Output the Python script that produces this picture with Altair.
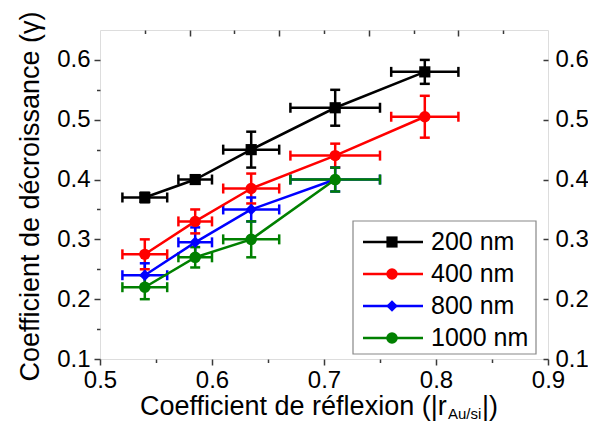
import altair as alt
import pandas as pd

# ---------------- data ----------------
series = ["200 nm", "400 nm", "800 nm", "1000 nm"]
colors = ["#000000", "#ff0000", "#0000ff", "#008000"]
shapes = ["square", "circle", "diamond", "circle"]
marker_sizes = [125, 135, 170, 135]

x_err = [0.02, 0.015, 0.025, 0.04, 0.03]

x_200 = [0.54, 0.585, 0.635, 0.71, 0.79]
y_200 = [0.37, 0.40, 0.45, 0.52, 0.58]
ey_200 = [0.008, 0.007, 0.03, 0.03, 0.02]

x_400 = [0.54, 0.585, 0.635, 0.71, 0.79]
y_400 = [0.275, 0.33, 0.385, 0.44, 0.505]
ey_400 = [0.025, 0.02, 0.025, 0.02, 0.035]

x_800 = [0.54, 0.585, 0.635, 0.71]
y_800 = [0.24, 0.295, 0.35, 0.40]
ey_800 = [0.02, 0.025, 0.02, 0.02]

x_1000 = [0.54, 0.585, 0.635, 0.71]
y_1000 = [0.22, 0.27, 0.30, 0.40]
ey_1000 = [0.02, 0.017, 0.03, 0.02]

x_major = [0.5, 0.6, 0.7, 0.8, 0.9]
x_minor = [0.55, 0.65, 0.75, 0.85]
x_top_major = [0.58, 0.66, 0.74, 0.82]
x_top_minor = [0.54, 0.62, 0.70, 0.78, 0.86]
y_major = [0.1, 0.2, 0.3, 0.4, 0.5, 0.6]
y_minor = [0.15, 0.25, 0.35, 0.45, 0.55]

x_title_main = "Coefficient de réflexion (|r"
x_title_sub = "Au/si"
x_title_end = "|)"
y_title = "Coefficient de décroissance (γ)"

# ---------------- tables ----------------
rows = []
for name, xs_, ys_, eys in [
    (series[0], x_200, y_200, ey_200),
    (series[1], x_400, y_400, ey_400),
    (series[2], x_800, y_800, ey_800),
    (series[3], x_1000, y_1000, ey_1000),
]:
    for i, (xv, yv, ey) in enumerate(zip(xs_, ys_, eys)):
        rows.append({"series": name, "order": i, "x": xv, "y": yv,
                     "ex": x_err[i], "ey": ey})
df = pd.DataFrame(rows)
leg = pd.DataFrame({"series": series, "row": list(range(len(series)))})

FONT = "Liberation Sans"
W, H = 448, 329
AX = "#3a3a3a"
EW = 2.5

xs = alt.Scale(domain=[0.5, 0.9], nice=False, zero=False)
ys = alt.Scale(domain=[0.1, 0.65], nice=False, zero=False)
color = alt.Color("series:N", scale=alt.Scale(domain=series, range=colors), legend=None)
shape = alt.Shape("series:N", scale=alt.Scale(domain=series, range=shapes), legend=None)
msize = alt.Size("series:N", scale=alt.Scale(domain=series, range=marker_sizes), legend=None)

base = alt.Chart(df).transform_calculate(
    xlo="datum.x - datum.ex", xhi="datum.x + datum.ex",
    ylo="datum.y - datum.ey", yhi="datum.y + datum.ey",
)

herr = base.mark_rule(strokeWidth=EW).encode(
    x=alt.X("xlo:Q", scale=xs, axis=None), x2="xhi:Q",
    y=alt.Y("y:Q", scale=ys, axis=None), color=color)
verr = base.mark_rule(strokeWidth=EW).encode(
    x=alt.X("x:Q", scale=xs, axis=None),
    y=alt.Y("ylo:Q", scale=ys, axis=None), y2="yhi:Q", color=color)
cap_xlo = base.mark_tick(orient="vertical", thickness=EW, size=10, opacity=1).encode(
    x=alt.X("xlo:Q", scale=xs, axis=None), y=alt.Y("y:Q", scale=ys, axis=None), color=color)
cap_xhi = base.mark_tick(orient="vertical", thickness=EW, size=10, opacity=1).encode(
    x=alt.X("xhi:Q", scale=xs, axis=None), y=alt.Y("y:Q", scale=ys, axis=None), color=color)
cap_ylo = base.mark_tick(orient="horizontal", thickness=EW, size=10, opacity=1).encode(
    x=alt.X("x:Q", scale=xs, axis=None), y=alt.Y("ylo:Q", scale=ys, axis=None), color=color)
cap_yhi = base.mark_tick(orient="horizontal", thickness=EW, size=10, opacity=1).encode(
    x=alt.X("x:Q", scale=xs, axis=None), y=alt.Y("yhi:Q", scale=ys, axis=None), color=color)

lines = base.mark_line(strokeWidth=2.5).encode(
    x=alt.X("x:Q", scale=xs, axis=None), y=alt.Y("y:Q", scale=ys, axis=None),
    color=color, order="order:Q")
points = base.mark_point(filled=True, opacity=1).encode(
    x=alt.X("x:Q", scale=xs, axis=None), y=alt.Y("y:Q", scale=ys, axis=None),
    color=color, shape=shape, size=msize)

common = dict(grid=False, domain=False, labelFont=FONT, labelFontSize=24,
              labelColor="black", tickColor=AX, tickWidth=1.5, labelFlush=False)

axA = alt.Chart(df).mark_point(opacity=0).encode(
    x=alt.X("x:Q", scale=xs, axis=alt.Axis(orient="bottom", values=x_major, format=".1f",
                                            tickSize=6, labelPadding=3, title=None, **common)),
    y=alt.Y("y:Q", scale=ys, axis=alt.Axis(orient="left", values=y_major, format=".1f",
                                            tickSize=6, labelPadding=4, title=y_title,
                                            titleFont=FONT, titleFontSize=27, titleFontWeight="normal",
                                            titleColor="black", titleX=-70, titleY=166, titleAngle=270,
                                            titleAlign="center", titleBaseline="middle", **common)))
axB = alt.Chart(df).mark_point(opacity=0).encode(
    x=alt.X("x:Q", scale=xs, axis=alt.Axis(orient="bottom", values=x_minor, labels=False,
                                            tickSize=3.5, title=None, **common)),
    y=alt.Y("y:Q", scale=ys, axis=alt.Axis(orient="left", values=y_minor, labels=False,
                                            tickSize=3.5, title=None, **common)))
axC = alt.Chart(df).mark_point(opacity=0).encode(
    x=alt.X("x:Q", scale=xs, axis=alt.Axis(orient="bottom", offset=-H, values=x_top_major,
                                            labels=False, tickSize=6, title=None, **common)),
    y=alt.Y("y:Q", scale=ys, axis=alt.Axis(orient="right", values=y_major, format=".1f",
                                            ticks=False, labelPadding=7, title=None, **common)))
axD = alt.Chart(df).mark_point(opacity=0).encode(
    x=alt.X("x:Q", scale=xs, axis=alt.Axis(orient="bottom", offset=-H, values=x_top_minor,
                                            labels=False, tickSize=3.5, title=None, **common)),
    y=alt.Y("y:Q", scale=ys, axis=alt.Axis(orient="left", offset=-W, values=y_major,
                                            labels=False, tickSize=5, title=None, **common)))

# ---------------- x title with subscript ----------------
t_df = pd.DataFrame({"a": [0]})
t1 = alt.Chart(t_df).mark_text(text=x_title_main, font=FONT, fontSize=27, align="left",
                               baseline="alphabetic", color="black").encode(
    x=alt.value(40), y=alt.value(385))
t2 = alt.Chart(t_df).mark_text(text=x_title_sub, font=FONT, fontSize=15, align="left",
                               baseline="alphabetic", color="black").encode(
    x=alt.value(348), y=alt.value(389))
t3 = alt.Chart(t_df).mark_text(text=x_title_end, font=FONT, fontSize=27, align="left",
                               baseline="alphabetic", color="black").encode(
    x=alt.value(382), y=alt.value(385))

# ---------------- legend ----------------
ly = alt.Y("row:Q", scale=alt.Scale(domain=[0, 3], range=[212, 308]), axis=None)
lbox = alt.Chart(t_df).mark_rect(fill="white", stroke="#888888", strokeWidth=1.2).encode(
    x=alt.value(253), x2=alt.value(436), y=alt.value(191), y2=alt.value(324))
lrule = alt.Chart(leg).mark_rule(strokeWidth=2.5).encode(
    x=alt.value(263), x2=alt.value(323), y=ly, color=color)
lpt = alt.Chart(leg).mark_point(filled=True, opacity=1).encode(
    x=alt.value(292), y=ly, color=color, shape=shape, size=msize)
ltxt = alt.Chart(leg).mark_text(font=FONT, fontSize=25, align="left", baseline="middle",
                                color="black").encode(
    x=alt.value(331), y=ly, text="series:N")

chart = alt.layer(
    axA, axB, axC, axD,
    herr, verr, cap_xlo, cap_xhi, cap_ylo, cap_yhi, lines, points,
    lbox, lrule, lpt, ltxt, t1, t2, t3,
).resolve_scale(y="independent").resolve_axis(x="independent", y="independent").properties(
    width=W, height=H,
    autosize=alt.AutoSizeParams(type="none"),
    padding={"left": 92, "top": 22, "right": 40, "bottom": 63},
).configure_view(stroke=AX, strokeWidth=1.5).configure(background="white")

chart.save("out.html", embed_options={"renderer": "svg", "actions": False})
